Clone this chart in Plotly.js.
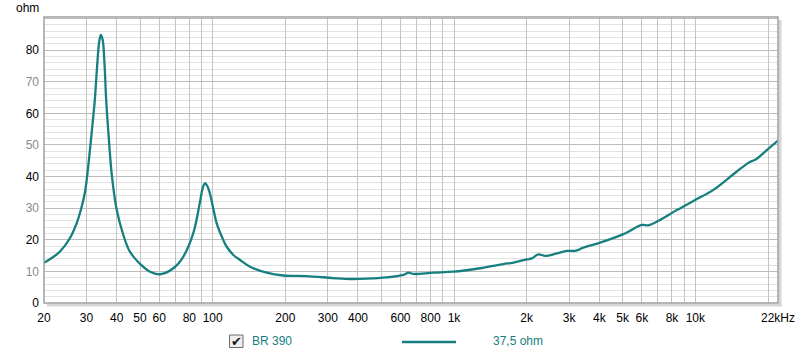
<!DOCTYPE html>
<html>
<head>
<meta charset="utf-8">
<script src="https://cdn.plot.ly/plotly-3.0.1.min.js"></script>
<style>
html,body{margin:0;padding:0;background:#fff;}
#chart{width:800px;height:356px;}
</style>
</head>
<body>
<div id="chart"></div>
<script>
// Impedance curve (Hz, ohm)
const freqHz = [20, 21.6, 23.3, 25.6, 27.3, 28.6, 29.6, 30.2, 31.0, 32.0, 32.5, 33.2, 33.9, 34.4, 35.0, 35.6, 36.2, 37.0, 38.2, 40.0, 42.6, 45.1, 47.5, 50.0, 55.0, 60.5, 68.7, 75.6, 83.1, 88.6, 90.8, 92.9, 95.0, 97.5, 100.5, 103.9, 110.7, 114.3, 121.8, 129.9, 142.9, 167.5, 196, 245, 316, 371, 435, 526, 617, 647, 679, 821, 994, 1282, 1601, 1762, 2002, 2099, 2236, 2385, 2666, 2932, 3174, 3436, 4030, 5033, 5999, 6391, 7029, 8376, 9978, 11880, 14850, 16870, 17690, 19770, 22000];
const impedanceOhm = [12.7, 14.3, 16.3, 20.5, 25.2, 30.2, 35.3, 40.3, 48.4, 59.0, 64.5, 75.0, 83.0, 84.8, 83.3, 76.0, 64.2, 53.5, 40.5, 29.6, 21.6, 16.6, 14.2, 12.4, 9.9, 9.1, 11.0, 14.7, 22.1, 32.0, 36.2, 37.9, 37.0, 34.5, 30.0, 25.2, 19.9, 17.8, 15.2, 13.6, 11.5, 9.6, 8.7, 8.5, 7.9, 7.6, 7.7, 8.1, 8.9, 9.6, 9.2, 9.6, 9.9, 11.0, 12.3, 12.8, 13.8, 14.1, 15.4, 14.9, 15.7, 16.5, 16.5, 17.5, 19.1, 21.8, 24.7, 24.6, 26.0, 29.4, 32.6, 35.8, 41.6, 44.7, 45.3, 48.4, 51.4];

// Axis ticks
const xGridHz = [20,30,40,50,60,70,80,90,100,200,300,400,500,600,700,800,900,1000,2000,3000,4000,5000,6000,7000,8000,9000,10000,20000,22000];
const xTickText = ["20","30","40","50","60","","80","","100","200","300","400","","600","","800","","1k","2k","3k","4k","5k","6k","","8k","","10k","","22kHz"];
const yTickVals = [0,10,20,30,40,50,60,70,80,90];
const yTickText = ["0","10","20","30","40","50","60","70","80",""];
const yTickDark = [true,false,true,false,true,false,true,false,true,false];
const decadeHz = [100,1000,10000];

const seriesName = "BR 390";
const legendValue = "37,5 ohm";
const curveColor = "#168080";

const yText = yTickText.map((t,i)=> t==="" ? "" : (yTickDark[i] ? '<span style="color:#000">'+t+'</span>' : '<span style="color:#8a8a8a">'+t+'</span>'));

// plot area in pixels: x 44..778, y 17..303
const L=44, R=778, T=17, B=303;
const px = v => (v-L)/(R-L);
const py = v => (B-v)/(B-T);

const shapes = [];
// decade lines darker
decadeHz.forEach(f=>shapes.push({type:'line', xref:'x', yref:'paper', x0:Math.log10(f), x1:Math.log10(f), y0:0, y1:1, line:{color:'#7a7a7a', width:1}, layer:'below'}));
// shadow strips (outside plot)
shapes.push({type:'rect', xref:'paper', yref:'paper', x0:px(R+0.5), x1:px(R+3.5), y0:py(B+3.5), y1:py(T+3), line:{width:0}, fillcolor:'#d6d6d6'});
shapes.push({type:'rect', xref:'paper', yref:'paper', x0:px(L+3), x1:px(R+3.5), y0:py(B+3.5), y1:py(B+0.5), line:{width:0}, fillcolor:'#d6d6d6'});
// frame
shapes.push({type:'rect', xref:'paper', yref:'paper', x0:0, x1:1, y0:0, y1:1, line:{color:'#a0a0a0', width:1.5}, fillcolor:'rgba(0,0,0,0)'});
// legend line
shapes.push({type:'line', xref:'paper', yref:'paper', x0:px(402), x1:px(456), y0:py(342), y1:py(342), line:{color:curveColor, width:2.5}});
// checkbox
shapes.push({type:'rect', xref:'paper', yref:'paper', x0:px(229.5), x1:px(243), y0:py(347.5), y1:py(335), line:{color:'#6a6a6a', width:1}, fillcolor:'#eeeeee'});

const annotations = [
  {text:'ohm', xref:'paper', yref:'paper', x:px(27), y:py(8), xanchor:'center', yanchor:'middle', showarrow:false, font:{family:'Liberation Sans, Arial, sans-serif', size:12, color:'#000'}},
  {text:'✔', xref:'paper', yref:'paper', x:px(236.5), y:py(341), xanchor:'center', yanchor:'middle', showarrow:false, font:{family:'DejaVu Sans', size:13, color:'#1a1a1a'}},
  {text:seriesName, xref:'paper', yref:'paper', x:px(250), y:py(341), xanchor:'left', yanchor:'middle', showarrow:false, font:{family:'Liberation Sans, Arial, sans-serif', size:12, color:curveColor}},
  {text:legendValue, xref:'paper', yref:'paper', x:px(491), y:py(341), xanchor:'left', yanchor:'middle', showarrow:false, font:{family:'Liberation Sans, Arial, sans-serif', size:12, color:curveColor}}
];

const trace = {
  x: freqHz, y: impedanceOhm, type:'scatter', mode:'lines', name: seriesName,
  line:{color:curveColor, width:2.3, shape:'spline', smoothing:1},
  hoverinfo:'skip'
};

const layout = {
  width:800, height:356,
  margin:{l:L, r:800-R, t:T, b:356-B, pad:0},
  paper_bgcolor:'#fff', plot_bgcolor:'#fff',
  showlegend:false,
  font:{family:'Liberation Sans, Arial, sans-serif', size:12, color:'#000'},
  xaxis:{
    type:'log', range:[Math.log10(20), Math.log10(22000)],
    tickmode:'array', tickvals:xGridHz, ticktext:xTickText,
    showgrid:true, gridcolor:'#c4c4c4', gridwidth:1,
    zeroline:false, showline:false, ticks:'', ticklabelstandoff:6,
    tickfont:{size:12, color:'#000'}, fixedrange:true
  },
  yaxis:{
    range:[0, 90.5],
    tickmode:'array', tickvals:yTickVals, ticktext:yText,
    showgrid:true, gridcolor:'#bcbcbc', gridwidth:1,
    minor:{dtick:2, tick0:0, showgrid:true, gridcolor:'#e2e2e2', gridwidth:1, ticks:''},
    zeroline:false, showline:false, ticks:'', ticklabelstandoff:4,
    tickfont:{size:12}, fixedrange:true
  },
  shapes:shapes,
  annotations:annotations
};

Plotly.newPlot('chart', [trace], layout, {staticPlot:true, displayModeBar:false});
</script>
</body>
</html>
